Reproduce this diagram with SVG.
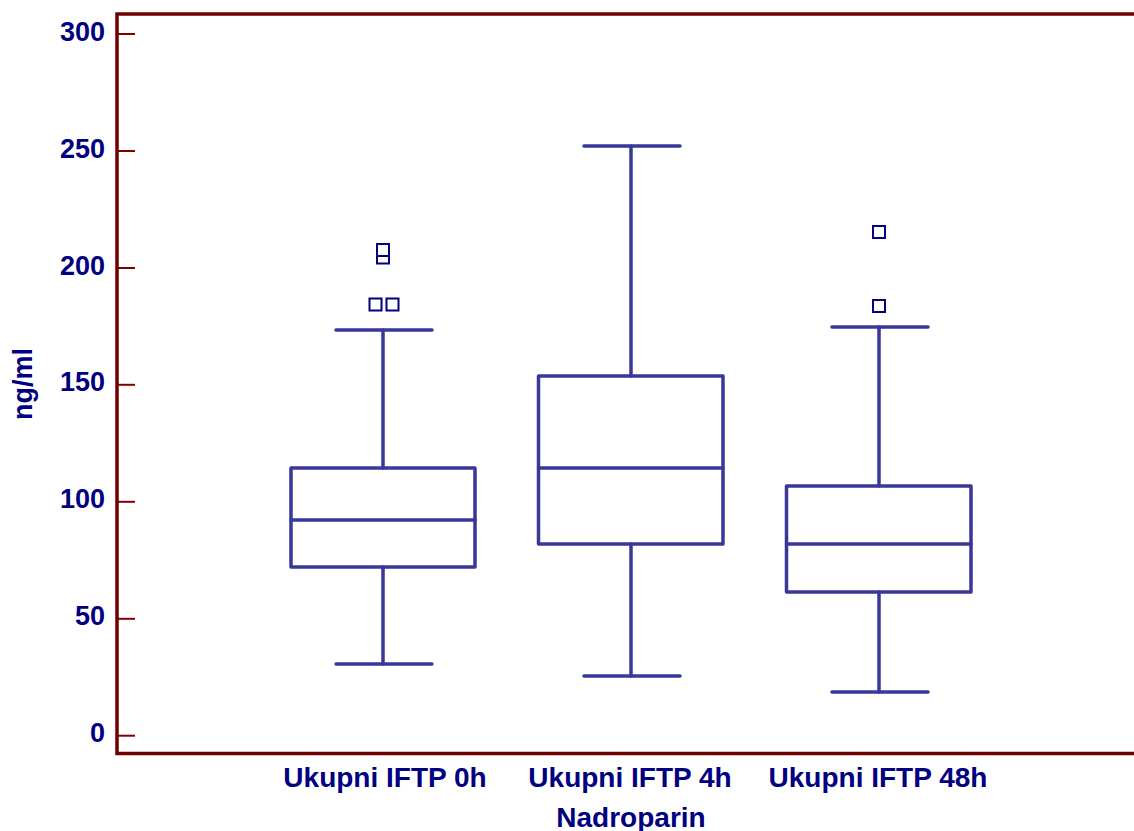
<svg xmlns="http://www.w3.org/2000/svg" width="1134" height="831" viewBox="0 0 1134 831">
<style>
.axis{stroke:#700000;stroke-width:3.5;fill:none}
.tick{stroke:#800000;stroke-width:2;fill:none}
.box{stroke:#38389a;stroke-width:3.5;fill:none;stroke-linecap:round;stroke-linejoin:round}
.out{stroke:#000080;stroke-width:2;fill:#ffffff}
.lbl{font-family:"Liberation Sans",Arial,sans-serif;font-weight:bold;fill:#000080}
.yl{font-size:27px;text-anchor:end}
.xl{font-size:28px;text-anchor:middle}
</style>
<rect x="0" y="0" width="1134" height="831" fill="#ffffff"/>
<g id="axes">
<polyline class="axis" points="1134,14 117,14 117,753.5 1134,753.5"/>
<g id="ticks">
<line class="tick" x1="118" y1="34" x2="135" y2="34"/>
<line class="tick" x1="118" y1="151" x2="135" y2="151"/>
<line class="tick" x1="118" y1="268" x2="135" y2="268"/>
<line class="tick" x1="118" y1="384.8" x2="135" y2="384.8"/>
<line class="tick" x1="118" y1="501.8" x2="135" y2="501.8"/>
<line class="tick" x1="118" y1="618.8" x2="135" y2="618.8"/>
<line class="tick" x1="118" y1="735.7" x2="135" y2="735.7"/>
</g>
<g id="ylabels" class="lbl yl">
<text x="105" y="40.5">300</text>
<text x="105" y="157.5">250</text>
<text x="105" y="274.5">200</text>
<text x="105" y="391.3">150</text>
<text x="105" y="508.3">100</text>
<text x="105" y="625.3">50</text>
<text x="105" y="742.2">0</text>
</g>
<text class="lbl" font-size="27" text-anchor="middle" transform="translate(32,384) rotate(-90)">ng/ml</text>
</g>
<g id="box1">
<line class="box" x1="383" y1="330" x2="383" y2="468"/>
<line class="box" x1="336" y1="330" x2="432" y2="330"/>
<rect class="box" x="291" y="468" width="184" height="99"/>
<line class="box" x1="291" y1="520" x2="475" y2="520"/>
<line class="box" x1="383" y1="567" x2="383" y2="664"/>
<line class="box" x1="336" y1="664" x2="432" y2="664"/>
<rect class="out" x="369.5" y="298.5" width="12" height="12"/>
<rect class="out" x="386.5" y="298.5" width="12" height="12"/>
<rect class="out" x="377" y="251.5" width="12" height="12"/>
<rect class="out" x="377" y="244" width="12" height="12"/>
</g>
<g id="box2">
<line class="box" x1="631" y1="146" x2="631" y2="376"/>
<line class="box" x1="584" y1="146" x2="680" y2="146"/>
<rect class="box" x="538.5" y="376" width="184.5" height="168"/>
<line class="box" x1="538.5" y1="468" x2="723" y2="468"/>
<line class="box" x1="631" y1="544" x2="631" y2="676"/>
<line class="box" x1="584" y1="676" x2="680" y2="676"/>
</g>
<g id="box3">
<line class="box" x1="879" y1="327" x2="879" y2="486"/>
<line class="box" x1="832" y1="327" x2="928" y2="327"/>
<rect class="box" x="786.5" y="486" width="184.5" height="106"/>
<line class="box" x1="786.5" y1="544" x2="971" y2="544"/>
<line class="box" x1="879" y1="592" x2="879" y2="692"/>
<line class="box" x1="832" y1="692" x2="928" y2="692"/>
<rect class="out" x="873" y="226" width="12" height="12"/>
<rect class="out" x="873" y="300" width="12" height="12"/>
</g>
<g id="xlabels" class="lbl xl">
<text x="385" y="786.5">Ukupni IFTP 0h</text>
<text x="630" y="786.5">Ukupni IFTP 4h</text>
<text x="878" y="786.5">Ukupni IFTP 48h</text>
<text x="631" y="827">Nadroparin</text>
</g>
</svg>
